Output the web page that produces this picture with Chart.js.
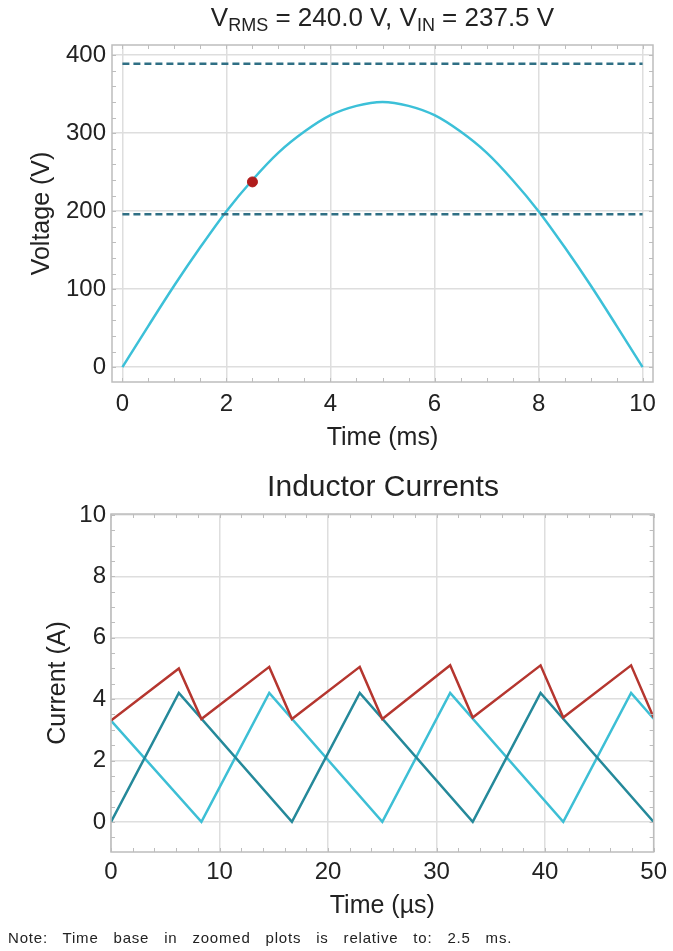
<!DOCTYPE html>
<html lang="en">
<head>
    <meta charset="UTF-8">
    <title>Input Voltage & Inductor Currents</title>
    <script src="https://cdn.jsdelivr.net/npm/chart.js"></script>
    <style>
        body {
            margin: 0;
            background: white;
            font-family: "Liberation Sans", Arial, sans-serif;
            color: #222;
        }
        .page {
            position: relative;
            width: 673px;
            height: 951px;
            overflow: hidden;
        }
        .box {
            position: absolute;
            left: 0;
            width: 673px;
        }
        .title {
            position: absolute;
            left: 112px;
            width: 541px;
            text-align: center;
            white-space: nowrap;
        }
        .title sub {
            font-size: 18px;
            vertical-align: -5px;
            line-height: 0;
        }
        .note {
            position: absolute;
            left: 8px;
            top: 929px;
            font-size: 15px;
            word-spacing: 10px;
            letter-spacing: 0.8px;
            white-space: nowrap;
        }
    </style>
</head>
<body>

<div class="page">
    <div class="box" style="top:0; height:460px;"><canvas id="voltChart"></canvas></div>
    <div class="box" style="top:460px; height:491px;"><canvas id="currChart"></canvas></div>
    <div class="title" style="top:2px; font-size:26px;">V<sub>RMS</sub> = 240.0 V, V<sub>IN</sub> = 237.5 V</div>
    <div class="title" style="top:469px; left:111px; width:544px; font-size:30px;">Inductor Currents</div>
    <div class="note">Note: Time base in zoomed plots is relative to: 2.5 ms.</div>
</div>

<script>
// ---- data: input voltage over a half cycle ----
const timeMs = [0, 0.5, 1, 1.5, 2, 2.5, 3, 3.5, 4, 4.5, 5, 5.5, 6, 6.5, 7, 7.5, 8, 8.5, 9, 9.5, 10];
const voltage = [0, 53, 105, 154, 200, 240, 275, 302, 323, 335, 340, 335, 323, 302, 275, 240, 200, 154, 105, 53, 0];
const limitT = [0, 10];
const upperLimit = [389, 389];
const lowerLimit = [196, 196];
const markerT = [2.5];
const markerV = [237.5];

// ---- data: inductor currents (zoomed, relative to 2.5 ms) ----
const sumT = [0, 6.25, 8.33, 14.58, 16.67, 22.92, 25, 31.25, 33.33, 39.58, 41.67, 47.92, 50];
const sumI = [3.3, 5.0, 3.35, 5.05, 3.35, 5.05, 3.35, 5.1, 3.4, 5.1, 3.4, 5.1, 3.4];
const phaseAT = [0, 6.25, 16.67, 22.92, 33.33, 39.58, 50];
const phaseAI = [0, 4.2, 0, 4.2, 0, 4.2, 0];
const phaseBT = [0, 8.33, 14.58, 25, 31.25, 41.67, 47.92, 50];
const phaseBI = [3.3, 0, 4.2, 0, 4.2, 0, 4.2, 3.36];

const xTicksMs = [0, 2, 4, 6, 8, 10];
const yTicksV = [0, 100, 200, 300, 400];
const xTicksUs = [0, 10, 20, 30, 40, 50];
const yTicksA = [0, 2, 4, 6, 8, 10];

const pts = (xs, ys) => xs.map((x, i) => ({ x: x, y: ys[i] }));

const FONT = "'Liberation Sans', Arial, sans-serif";
const TEXT = '#222';
const GRID = '#dedede';
const FRAME = '#bdbdbd';

// frame on all four sides plus small minor tick marks
const framePlugin = {
    id: 'frame',
    afterDraw(chart, args, opts) {
        const { ctx, chartArea: a, scales } = chart;
        ctx.save();
        ctx.strokeStyle = FRAME;
        ctx.lineWidth = 1;
        const xs = scales.x, ys = scales.y;
        for (let v = Math.ceil(xs.min / opts.xMinor) * opts.xMinor; v <= xs.max + 1e-9; v += opts.xMinor) {
            const px = Math.round(xs.getPixelForValue(v)) + 0.5;
            ctx.beginPath();
            ctx.moveTo(px, a.bottom); ctx.lineTo(px, a.bottom - 4);
            ctx.moveTo(px, a.top); ctx.lineTo(px, a.top + 4);
            ctx.stroke();
        }
        for (let v = Math.ceil(ys.min / opts.yMinor) * opts.yMinor; v <= ys.max + 1e-9; v += opts.yMinor) {
            const py = Math.round(ys.getPixelForValue(v)) + 0.5;
            ctx.beginPath();
            ctx.moveTo(a.left, py); ctx.lineTo(a.left + 4, py);
            ctx.moveTo(a.right, py); ctx.lineTo(a.right - 4, py);
            ctx.stroke();
        }
        ctx.lineWidth = 1.5;
        ctx.strokeRect(a.left, a.top, a.right - a.left, a.bottom - a.top);
        ctx.restore();
    }
};

function axis(min, max, tickList, title, size, titlePad, tickPad) {
    return {
        type: 'linear',
        min: min,
        max: max,
        afterBuildTicks: s => { s.ticks = tickList.map(v => ({ value: v })); },
        afterFit: s => { if (size.w) s.width = size.w; if (size.h) s.height = size.h; },
        grid: { color: GRID, lineWidth: 1.5, drawTicks: false },
        border: { display: false },
        ticks: { color: TEXT, font: { family: FONT, size: 24 }, padding: tickPad, maxRotation: 0, autoSkip: false },
        title: { display: true, text: title, color: TEXT, font: { family: FONT, size: 25 }, padding: titlePad }
    };
}

// Voltage chart
new Chart(document.getElementById('voltChart'), {
    type: 'line',
    data: {
        datasets: [
            {
                data: pts(markerT, markerV),
                showLine: false,
                pointRadius: 5,
                pointBackgroundColor: '#b01c1c',
                pointBorderColor: '#b01c1c'
            },
            {
                data: pts(limitT, upperLimit),
                borderColor: '#2f6f84',
                borderWidth: 2.5,
                borderDash: [7, 4],
                pointRadius: 0
            },
            {
                data: pts(limitT, lowerLimit),
                borderColor: '#2f6f84',
                borderWidth: 2.5,
                borderDash: [7, 4],
                pointRadius: 0
            },
            {
                data: pts(timeMs, voltage),
                borderColor: '#3cc0d8',
                borderWidth: 2.5,
                pointRadius: 0,
                cubicInterpolationMode: 'monotone'
            }
        ]
    },
    options: {
        responsive: true,
        maintainAspectRatio: false,
        animation: false,
        layout: { padding: { top: 45, right: 20, left: 0, bottom: 0 } },
        plugins: {
            legend: { display: false },
            tooltip: { enabled: false },
            frame: { xMinor: 0.5, yMinor: 20 }
        },
        scales: {
            x: axis(-0.2, 10.2, xTicksMs, 'Time (ms)', { h: 78 }, { top: 0, bottom: 7 }, 8),
            y: axis(-19, 413, yTicksV, 'Voltage (V)', { w: 112 }, { top: 27, bottom: 0 }, 6)
        }
    },
    plugins: [framePlugin]
});

// Inductor currents chart
new Chart(document.getElementById('currChart'), {
    type: 'line',
    data: {
        datasets: [
            {
                data: pts(sumT, sumI),
                borderColor: '#b5362f',
                borderWidth: 2.5,
                pointRadius: 0,
                tension: 0
            },
            {
                data: pts(phaseAT, phaseAI),
                borderColor: '#25899a',
                borderWidth: 2.5,
                pointRadius: 0,
                tension: 0
            },
            {
                data: pts(phaseBT, phaseBI),
                borderColor: '#3dbfd5',
                borderWidth: 2.5,
                pointRadius: 0,
                tension: 0
            }
        ]
    },
    options: {
        responsive: true,
        maintainAspectRatio: false,
        animation: false,
        layout: { padding: { top: 54, right: 18, left: 0, bottom: 0 } },
        plugins: {
            legend: { display: false },
            tooltip: { enabled: false },
            frame: { xMinor: 2, yMinor: 0.5 }
        },
        scales: {
            x: axis(0, 50, xTicksUs, 'Time (µs)', { h: 99 }, { top: 0, bottom: 30 }, 6),
            y: axis(-0.98, 10.03, yTicksA, 'Current (A)', { w: 111 }, { top: 43, bottom: 0 }, 5)
        }
    },
    plugins: [framePlugin]
});
</script>

</body>
</html>
